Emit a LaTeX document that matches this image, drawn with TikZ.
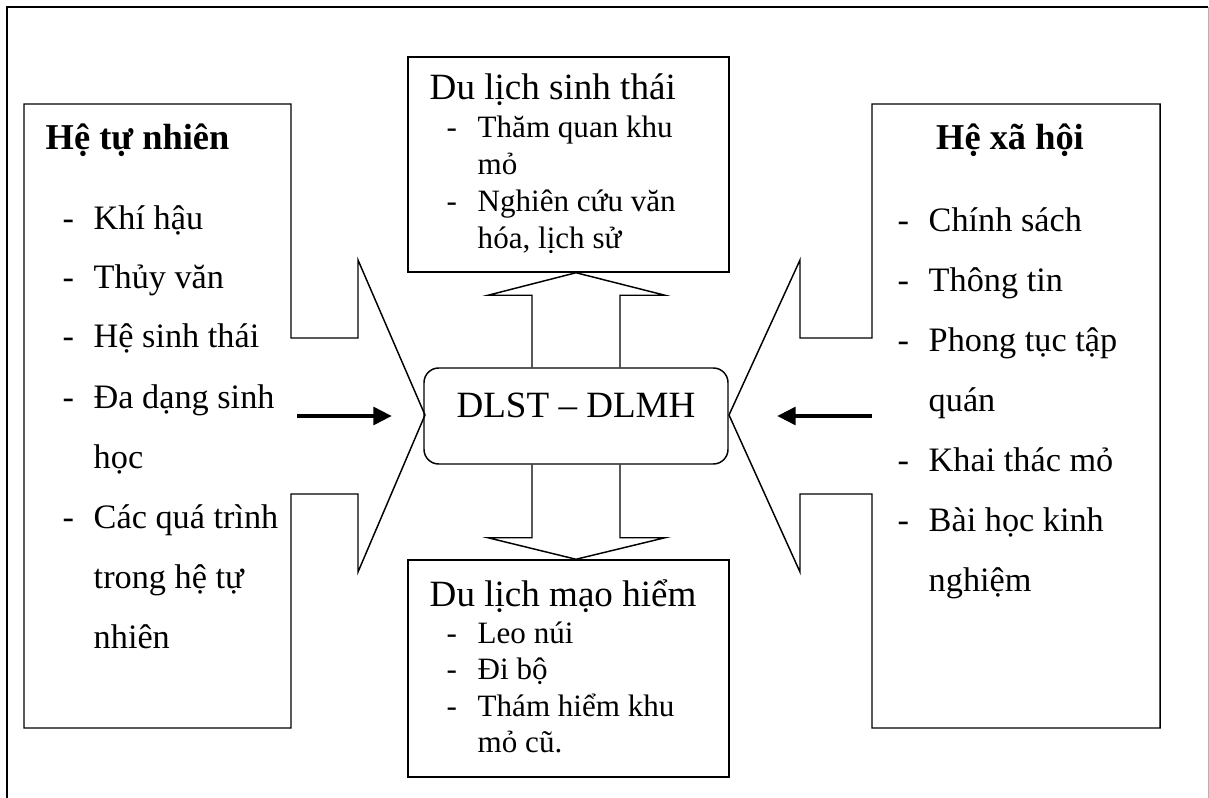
\documentclass[tikz,border=0pt]{standalone}
\usepackage{fontspec}
\setmainfont{Liberation Serif}
\usetikzlibrary{arrows.meta,calc}
\newcommand\itemdash{\makebox[23.25pt][l]{-}}
\begin{document}
\begin{tikzpicture}[x=0.75pt,y=-0.75pt,line width=1.1pt,
  sidetext/.style={anchor=base west,inner sep=0pt,font=\fontsize{25.7}{30}\selectfont},
  boxtext/.style={anchor=base west,inner sep=0pt,font=\fontsize{23.3}{28}\selectfont},
  headtext/.style={inner sep=0pt,font=\fontsize{27.8}{32}\selectfont},
  titletext/.style={inner sep=0pt,font=\bfseries\fontsize{27.3}{32}\selectfont},
  plainbox/.style={draw,inner sep=0pt},
  thickarrow/.style={line width=3.6pt,-{Triangle[length=14pt,width=13pt]}}]
\useasboundingbox (0,0) rectangle (1209,798);
% outer frame
\draw (7,798) -- (7,7) -- (1208,7);
\draw[gray!60,line width=0.7pt] (1208,7) -- (1208,798);
% left callout
\draw (24,104) -- (291,104) -- (291,338) -- (358,338) -- (358,260) -- (425,415)
  -- (358,572) -- (358,494) -- (291,494) -- (291,728) -- (24,728) -- cycle;
% right callout
\draw (872,104) -- (1160,104) -- (1160,728) -- (872,728) -- (872,494) -- (800,494)
  -- (800,572) -- (729,415) -- (800,260) -- (800,338) -- (872,338) -- cycle;
% boxes
\node[plainbox,minimum width=240.75pt,minimum height=161.25pt] (eco) at (568.5,164.5) {};
\node[plainbox,minimum width=240.75pt,minimum height=162.75pt] (adv) at (568.5,668.5) {};
\node[plainbox,rounded corners=11pt,minimum width=228pt,minimum height=72pt] (core) at (576,416) {};
\node[headtext,anchor=base] (coretext) at (576,417) {DLST – DLMH};
% block arrow up
\coordinate (uptip) at (core.north |- eco.south);
\draw ($(core.north)+(-44,0)$) -- ($(core.north)+(-44,-72)$) -- ($(core.north)+(-88,-72)$)
  -- (uptip) -- ($(core.north)+(89,-72)$) -- ($(core.north)+(44,-72)$) -- ($(core.north)+(44,0)$);
% block arrow down
\coordinate (dntip) at (core.south |- adv.north);
\draw ($(core.south)+(-44,0)$) -- ($(core.south)+(-44,73)$) -- ($(core.south)+(-88,73)$)
  -- (dntip) -- ($(core.south)+(89,73)$) -- ($(core.south)+(44,73)$) -- ($(core.south)+(44,0)$);
% thick arrows
\coordinate (lstart) at (297,416);
\coordinate (lend) at (392,416);
\coordinate (rstart) at (872,416);
\coordinate (rend) at (777,416);
\draw[thickarrow] (lstart) -- (lend);
\draw[thickarrow] (rstart) -- (rend);
% left text
\node[titletext,anchor=base west] (ltitle) at (45,150) {Hệ tự nhiên};
\node[sidetext] (l1) at (62,230) {\itemdash Khí hậu};
\node[sidetext] (l2) at (62,289) {\itemdash Thủy văn};
\node[sidetext] (l3) at (62,348) {\itemdash Hệ sinh thái};
\node[sidetext] (l4) at (62,408) {\itemdash Đa dạng sinh};
\node[sidetext] (l5) at (93,468) {học};
\node[sidetext] (l6) at (62,528) {\itemdash Các quá trình};
\node[sidetext] (l7) at (93,588) {trong hệ tự};
\node[sidetext] (l8) at (93,648) {nhiên};
% right text
\node[titletext,anchor=base] (rtitle) at (1010,150) {Hệ xã hội};
\node[sidetext] (r1) at (897,232) {\itemdash Chính sách};
\node[sidetext] (r2) at (897,292) {\itemdash Thông tin};
\node[sidetext] (r3) at (897,352) {\itemdash Phong tục tập};
\node[sidetext] (r4) at (928,411) {quán};
\node[sidetext] (r5) at (897,471) {\itemdash Khai thác mỏ};
\node[sidetext] (r6) at (897,531) {\itemdash Bài học kinh};
\node[sidetext] (r7) at (928,591) {nghiệm};
% top box text
\node[headtext,anchor=base west] (etitle) at (429,100) {Du lịch sinh thái};
\node[boxtext] (e1) at (446,138) {\itemdash Thăm quan khu};
\node[boxtext] (e2) at (477,175) {mỏ};
\node[boxtext] (e3) at (446,212) {\itemdash Nghiên cứu văn};
\node[boxtext] (e4) at (477,249) {hóa, lịch sử};
% bottom box text
\node[headtext,anchor=base west] (atitle) at (429,606) {Du lịch mạo hiểm};
\node[boxtext] (a1) at (446,643) {\itemdash Leo núi};
\node[boxtext] (a2) at (446,679.5) {\itemdash Đi bộ};
\node[boxtext] (a3) at (446,716) {\itemdash Thám hiểm khu};
\node[boxtext] (a4) at (477,752.5) {mỏ cũ.};
\end{tikzpicture}
\end{document}
